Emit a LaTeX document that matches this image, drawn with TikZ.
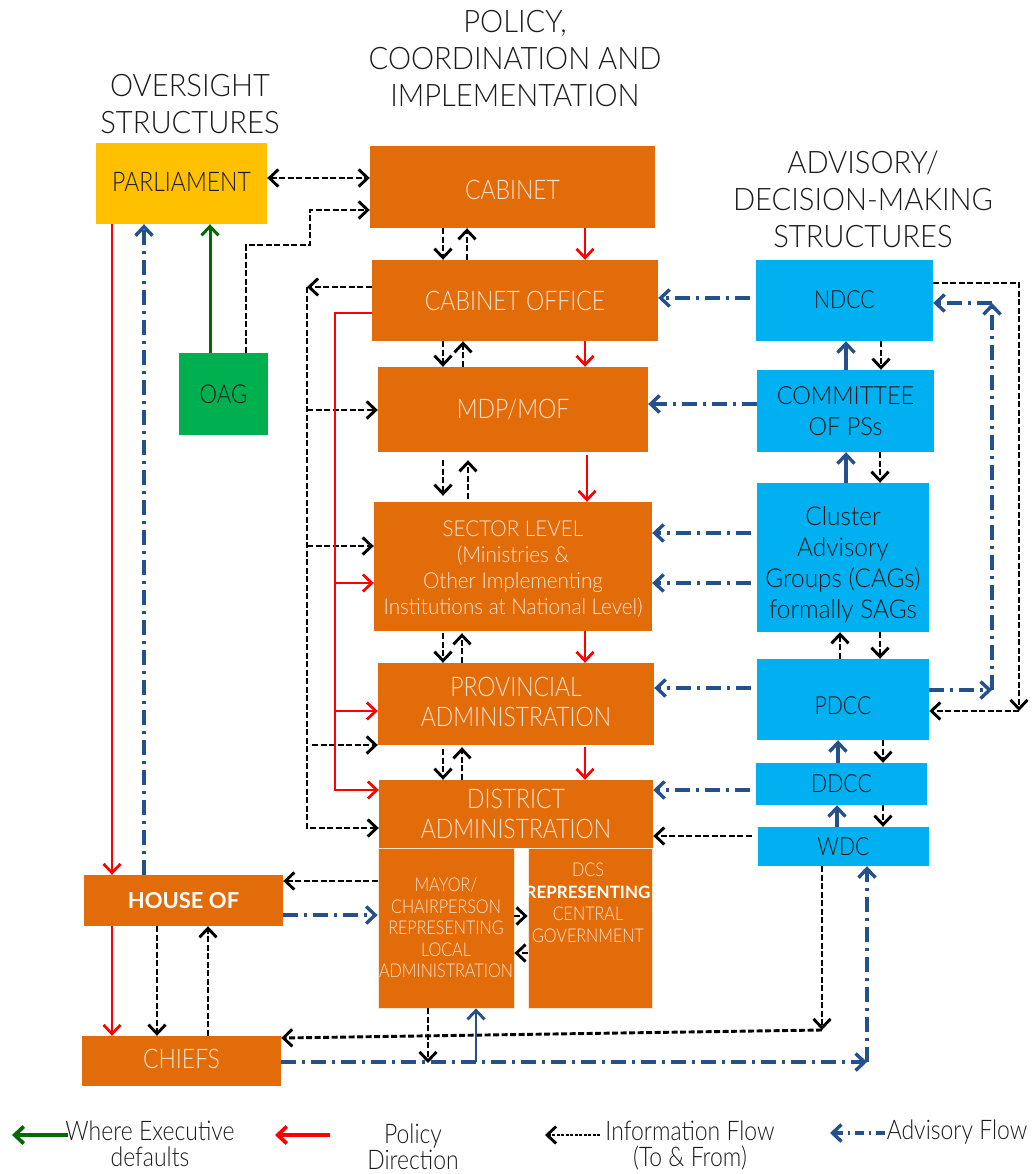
\documentclass[tikz,border=0pt]{standalone}
\usepackage{fontspec}
\setmainfont{Lato}[UprightFont=* Light, BoldFont=* Bold, FakeStretch=0.85]
\newfontfamily\hbf{Lato}[UprightFont=* Bold]
\newfontfamily\wideL{Lato}[UprightFont=* Light, FakeStretch=0.94]
\usetikzlibrary{arrows.meta}
\definecolor{orng}{HTML}{E36C0A}
\definecolor{yell}{HTML}{FFC000}
\definecolor{grn}{HTML}{00B050}
\definecolor{cyn}{HTML}{00B0F0}
\definecolor{advblue}{HTML}{24508C}
\definecolor{exgreen}{HTML}{006B00}
\definecolor{peach}{HTML}{FDE4D0}
\definecolor{darktxt}{HTML}{1A1A1A}
\tikzset{
  myb/.tip={Straight Barb[length=9pt,width=17pt]},
  box/.style={inner sep=0pt, align=center},
  obox/.style={box, fill=orng, text=peach, font=\fontsize{27}{30}\selectfont},
  cbox/.style={box, fill=cyn, text=darktxt, font=\fontsize{25}{31}\selectfont},
  info/.style={black, line width=2.9pt, dash pattern=on 6pt off 2.5pt, -myb},
  adv/.style={advblue, line width=3.4pt, dash pattern=on 15pt off 6pt on 3pt off 6pt, -myb},
  pol/.style={red, line width=2.7pt, -myb},
  bsol/.style={advblue, line width=3.3pt, -myb},
  exec/.style={exgreen, line width=3pt, -myb},
  ttl/.style={align=center, text=darktxt, font=\wideL\fontsize{31}{37}\selectfont},
  leg/.style={align=center, text=darktxt, font=\fontsize{27}{26}\selectfont},
}
\begin{document}
\begin{tikzpicture}[x=1pt,y=-1pt]
\useasboundingbox (0,0) rectangle (1035,1174);

% titles
\node[ttl] (t1) at (190,104) {OVERSIGHT\\STRUCTURES};
\node[ttl] (t2) at (515,59) {POLICY,\\COORDINATION AND\\IMPLEMENTATION};
\node[ttl] (t3) at (863,199) {ADVISORY/\\DECISION-MAKING\\STRUCTURES};

% oversight
\node[box, fill=yell, text=darktxt, minimum width=171pt, minimum height=81pt, font=\fontsize{27}{30}\selectfont] (parl) at (181.5,183.5) {\raisebox{2pt}[20pt][0pt]{PARLIAMENT}};
\node[box, fill=grn, text=darktxt, minimum width=89pt, minimum height=82pt, font=\fontsize{26}{30}\selectfont] (oag) at (223.5,394) {OAG};

% policy column
\node[obox, minimum width=285pt, minimum height=82pt] (cab) at (512.5,187) {\raisebox{-3pt}[20pt][0pt]{CABINET}};
\node[obox, minimum width=286pt, minimum height=81pt] (cabo) at (515,300.5) {CABINET OFFICE};
\node[obox, minimum width=270pt, minimum height=85pt] (mdp) at (513,409.5) {MDP/MOF};
\node[obox, minimum width=278pt, minimum height=129pt,
  label={[align=center, text=peach, font=\wideL\fontsize{22}{26}\selectfont, yshift=-3pt]center:{SECTOR LEVEL\\(Ministries \&\\Other Implementing\\Institutions at National Level)}}] (sector) at (513,566.5) {};
\node[obox, minimum width=276pt, minimum height=82pt,
  label={[align=center, text=peach, font=\fontsize{27}{30}\selectfont, yshift=2pt]center:{PROVINCIAL\\ADMINISTRATION}}] (prov) at (516,704) {};
\node[obox, minimum width=274pt, minimum height=68pt] (dist) at (516,814) {DISTRICT\\ADMINISTRATION};
\node[obox, draw=peach, line width=0.8pt, minimum width=136pt, minimum height=160pt, font=\fontsize{19}{21.5}\selectfont] (mayor) at (446,928) {MAYOR/\\CHAIRPERSON\\REPRESENTING\\LOCAL\\ADMINISTRATION};
\node[obox, draw=peach, line width=0.8pt, minimum width=124pt, minimum height=160pt,
  label={[align=center, text=peach, font=\fontsize{19}{22}\selectfont, anchor=north, inner sep=0pt, yshift=-15pt, xshift=-2pt]north:{DCS\\{\hbf\color{white}\fontsize{17}{22}\selectfont REPRESENTING}\\CENTRAL\\GOVERNMENT}}] (dcs) at (590,928) {};
\node[box, fill=orng, text=white, minimum width=199pt, minimum height=51pt, font=\hbf\fontsize{22}{26}\selectfont] (house) at (183.5,900.5) {HOUSE OF};
\node[obox, minimum width=199pt, minimum height=50pt] (chiefs) at (181.5,1061) {\raisebox{3pt}[20pt][0pt]{CHIEFS}};

% advisory column
\node[cbox, minimum width=177pt, minimum height=81pt] (ndcc) at (844.5,300.5) {\raisebox{2pt}[19pt][0pt]{NDCC}};
\node[cbox, minimum width=177pt, minimum height=82pt, font=\wideL\fontsize{25}{31}\selectfont] (cops) at (845.5,411) {COMMITTEE\\OF PSs};
\node[cbox, minimum width=172pt, minimum height=149pt,
  label={[align=center, text=darktxt, font=\wideL\fontsize{26}{31}\selectfont, yshift=-7pt]center:{Cluster\\Advisory\\Groups (CAGs)\\formally SAGs}}] (cag) at (843,557.5) {};
\node[cbox, minimum width=172pt, minimum height=81pt] (pdcc) at (843,699.5) {\raisebox{-5pt}[19pt][0pt]{PDCC}};
\node[cbox, minimum width=171pt, minimum height=42pt] (ddcc) at (841.5,784) {DDCC};
\node[cbox, minimum width=171pt, minimum height=39pt] (wdc) at (843.5,846.5) {WDC};

% ---- oversight connectors
\draw[info, myb-myb] (parl.east |- 0,178) -- (cab.west |- 0,178);
\draw[info] (246,0 |- oag.north) -- (246,245) -- (310,245) -- (310,210) -- (cab.west |- 0,210);
\draw[exec] (210,0 |- oag.north) -- (210,0 |- parl.south);
\draw[pol] (112,0 |- parl.south) -- (112,0 |- house.north);
\draw[adv] (144,0 |- house.north) -- (144,0 |- parl.south);

% ---- vertical policy column
\draw[info] (443,0 |- cab.south) -- (443,0 |- cabo.north);
\draw[info] (467,0 |- cabo.north) -- (467,0 |- cab.south);
\draw[pol] (585,0 |- cab.south) -- (585,0 |- cabo.north);
\draw[info] (443,0 |- cabo.south) -- (443,0 |- mdp.north);
\draw[info] (463,0 |- mdp.north) -- (463,0 |- cabo.south);
\draw[pol] (585,0 |- cabo.south) -- (585,0 |- mdp.north);
\draw[info, shorten <=8pt, shorten >=6pt] (443,0 |- mdp.south) -- (443,0 |- sector.north);
\draw[info, shorten <=3pt, shorten >=8pt] (468,0 |- sector.north) -- (468,0 |- mdp.south);
\draw[pol, shorten <=3pt] (587,0 |- mdp.south) -- (587,0 |- sector.north);
\draw[info, shorten <=2pt] (443,0 |- sector.south) -- (443,0 |- prov.north);
\draw[info, shorten >=2pt] (462,0 |- prov.north) -- (462,0 |- sector.south);
\draw[pol] (585,0 |- sector.south) -- (585,0 |- prov.north);
\draw[info, shorten <=4pt] (443,0 |- prov.south) -- (443,0 |- dist.north);
\draw[info, shorten >=2pt] (462,0 |- dist.north) -- (462,0 |- prov.south);
\draw[pol, shorten <=2pt] (585,0 |- prov.south) -- (585,0 |- dist.north);

% ---- left information bus
\coordinate (ib) at (307,287);
\draw[info] (cabo.west |- ib) -- (ib);
\draw[info] (ib) -- (307,828) -- (dist.west |- 0,828);
\coordinate (ib1) at (307,410);
\coordinate (ib2) at (307,546);
\coordinate (ib3) at (312,745);
\draw[info] (ib1) -- (mdp.west |- ib1);
\draw[info] (ib2) -- (sector.west |- ib2);
\draw[info] (ib3) -- (prov.west |- ib3);

% ---- left policy bus
\coordinate (pb) at (335,313);
\draw[pol] (cabo.west |- pb) -- (pb) -- (335,790) -- (dist.west |- 0,790);
\coordinate (pb1) at (335,583);
\coordinate (pb2) at (335,711);
\draw[pol] (pb1) -- (sector.west |- pb1);
\draw[pol] (pb2) -- (prov.west |- pb2);

% ---- advisory to policy
\draw[adv, shorten <=6pt] (ndcc.west |- 0,298) -- (cabo.east |- 0,298);
\draw[adv] (cops.west |- 0,404) -- (mdp.east |- 0,404);
\draw[adv, shorten <=6pt] (cag.west |- 0,533) -- (sector.east |- 0,533);
\draw[adv, shorten <=6pt] (cag.west |- 0,583) -- (sector.east |- 0,583);
\draw[adv, shorten <=6pt] (pdcc.west |- 0,688) -- (prov.east |- 0,688);
\draw[adv, shorten <=6pt] (ddcc.west |- 0,790) -- (dist.east |- 0,790);
\draw[info, shorten <=6pt] (wdc.west |- 0,836) -- (dist.east |- 0,836);

% ---- advisory column verticals
\draw[bsol] (846,0 |- cops.north) -- (846,0 |- ndcc.south);
\draw[info] (881,0 |- ndcc.south) -- (881,0 |- cops.north);
\draw[bsol] (846,0 |- cag.north) -- (846,0 |- cops.south);
\draw[info] (880,0 |- cops.south) -- (880,0 |- cag.north);
\draw[info] (840,0 |- pdcc.north) -- (840,0 |- cag.south);
\draw[info] (880,0 |- cag.south) -- (880,0 |- pdcc.north);
\draw[bsol] (838,0 |- ddcc.north) -- (838,0 |- pdcc.south);
\draw[info] (883,0 |- pdcc.south) -- (883,0 |- ddcc.north);
\draw[bsol] (837,0 |- wdc.north) -- (837,0 |- ddcc.south);
\draw[info] (883,0 |- ddcc.south) -- (883,0 |- wdc.north);

% ---- far right loops
\coordinate (rc1) at (1019,711);
\draw[info] (ndcc.east |- 0,283) -- (1019,283) -- (rc1);
\draw[info] (rc1) -- (pdcc.east |- rc1);
\coordinate (rc2) at (992,690);
\coordinate (rc3) at (992,303);
\draw[adv] (pdcc.east |- rc2) -- (rc2);
\draw[adv] (rc2) -- (rc3);
\draw[adv] (rc3) -- (ndcc.east |- rc3);

% ---- bottom part
\draw[info] (mayor.west |- 0,881) -- (house.east |- 0,881);
\draw[adv] (house.east |- 0,915) -- (mayor.west |- 0,915);
\draw[info] (mayor.east |- 0,916) -- (dcs.west |- 0,916);
\draw[info] (dcs.west |- 0,953) -- (mayor.east |- 0,953);
\draw[pol] (112,0 |- house.south) -- (112,0 |- chiefs.north);
\draw[info] (157,0 |- house.south) -- (157,0 |- chiefs.north);
\draw[info] (208,0 |- chiefs.north) -- (208,0 |- house.south);
\coordinate (wc) at (822,1030);
\draw[info] (822,0 |- wdc.south) -- (wc);
\draw[info] (wc) -- (chiefs.east |- 0,1038);
\coordinate (cw) at (867,1062);
\draw[adv] (chiefs.east |- cw) -- (cw);
\draw[adv] (cw) -- (867,0 |- wdc.south);
\coordinate (mb) at (428,1063);
\draw[info] (428,0 |- mayor.south) -- (mb);
\coordinate (mu) at (476,1062);
\draw[bsol, line width=2.8pt] (mu) -- (476,0 |- mayor.south);

% ---- legend
\coordinate (g1) at (68,1135); \coordinate (g2) at (12,1135);
\draw[exec, line width=3.8pt] (g1) -- (g2);
\node[leg] (lg1) at (150,1144) {Where Executive\\defaults};
\coordinate (r1) at (330,1135); \coordinate (r2) at (275,1135);
\draw[pol, line width=3.8pt] (r1) -- (r2);
\node[leg] (lg2) at (413,1147) {Policy\\Direction};
\coordinate (k1) at (600,1135); \coordinate (k2) at (545,1135);
\draw[info, dash pattern=on 3pt off 1.5pt] (k1) -- (k2);
\node[leg] (lg3) at (690,1145) {Information Flow\\(To \& From)};
\coordinate (a1) at (885,1133); \coordinate (a2) at (830,1133);
\draw[adv, dash pattern=on 9pt off 5pt on 2pt off 5pt] (a1) -- (a2);
\node[leg] (lg4) at (957,1132) {Advisory Flow};
\end{tikzpicture}
\end{document}
